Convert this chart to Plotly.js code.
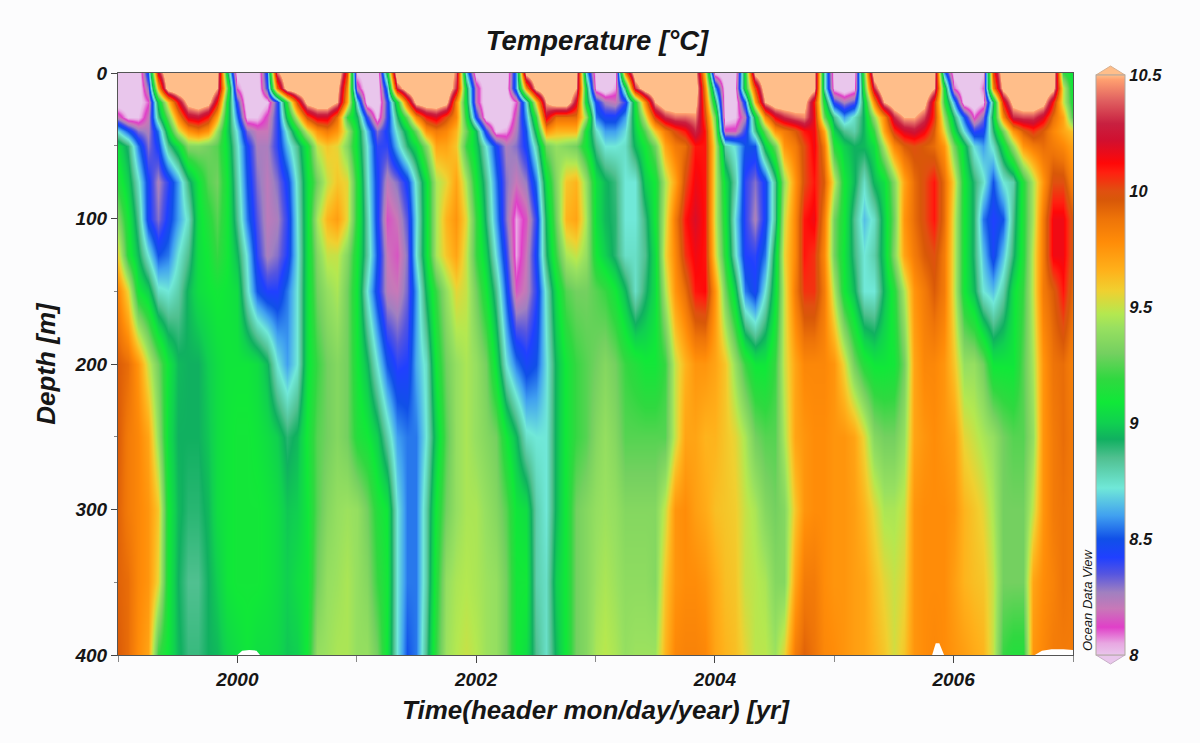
<!DOCTYPE html>
<html><head><meta charset="utf-8">
<script src="https://cdn.plot.ly/plotly-3.0.1.min.js"></script>
<style>html,body{margin:0;padding:0;background:#fcfcfd}</style></head>
<body><div id="chart" style="width:1200px;height:743px"></div>
<script>
const times=[1999,1999.083,1999.167,1999.25,1999.333,1999.417,1999.5,1999.583,1999.667,1999.75,1999.833,1999.917,
2000,2000.083,2000.167,2000.25,2000.333,2000.417,2000.5,2000.583,2000.667,2000.75,2000.833,2000.917,
2001,2001.083,2001.167,2001.25,2001.333,2001.417,2001.5,2001.583,2001.667,2001.75,2001.833,2001.917,
2002,2002.083,2002.167,2002.25,2002.333,2002.417,2002.5,2002.583,2002.667,2002.75,2002.833,2002.917,
2003,2003.083,2003.167,2003.25,2003.333,2003.417,2003.5,2003.583,2003.667,2003.75,2003.833,2003.917,
2004,2004.083,2004.167,2004.25,2004.333,2004.417,2004.5,2004.583,2004.667,2004.75,2004.833,2004.917,
2005,2005.083,2005.167,2005.25,2005.333,2005.417,2005.5,2005.583,2005.667,2005.75,2005.833,2005.917,
2006,2006.083,2006.167,2006.25,2006.333,2006.417,2006.5,2006.583,2006.667,2006.75,2006.833,2006.917,
2007];
const depths=[0,10,20,30,40,50,75,100,125,150,200,250,300,350,400];
const d0=[7.9,7.9,7.9,8.5,10.2,10.8,10.8,10.8,10.8,10.8,10.6,9.0,
7.95,7.9,7.9,8.5,10.4,10.8,10.8,10.8,10.8,10.8,10.8,10.0,
8.0,7.9,7.9,9.0,10.8,10.8,10.8,10.8,10.8,10.8,10.4,8.7,
7.95,7.9,7.9,7.9,8.6,10.6,10.8,10.8,10.8,10.8,10.6,8.7,
7.95,7.95,7.95,9.8,10.7,10.8,10.8,10.8,10.8,10.8,10.6,9.6,
8.0,7.9,7.95,9.1,10.6,10.8,10.8,10.8,10.8,10.8,10.6,8.8,
7.95,7.9,7.95,9.3,10.7,10.8,10.8,10.8,10.8,10.8,10.6,8.6,
7.95,7.9,7.9,8.0,10.0,10.7,10.8,10.8,10.8,10.8,10.7,9.2,
9.05];
const d10=[7.9,7.9,7.9,8.3,9.7,10.7,10.8,10.8,10.8,10.8,10.5,9.3,
8.1,7.9,7.9,8.4,9.9,10.7,10.8,10.8,10.8,10.8,10.6,9.8,
8.2,7.9,7.9,8.6,10.3,10.7,10.8,10.8,10.8,10.8,10.3,9.0,
8.2,7.9,7.9,7.95,8.6,9.8,10.6,10.8,10.8,10.8,10.5,9.0,
8.0,7.9,8.05,8.9,10.3,10.7,10.8,10.8,10.8,10.8,10.7,9.8,
8.6,7.95,8.0,9.1,10.0,10.7,10.8,10.8,10.8,10.8,10.6,8.8,
8.0,7.9,8.0,9.2,10.3,10.8,10.8,10.8,10.8,10.8,10.5,9.1,
8.1,7.9,7.9,8.1,9.8,10.6,10.8,10.8,10.8,10.8,10.6,9.5,
9.05];
const d20=[7.9,7.9,7.95,8.1,9.0,9.6,10.15,10.6,10.7,10.6,10.1,9.1,
8.4,7.9,7.9,8.0,8.4,9.2,10.0,10.6,10.7,10.7,10.5,9.7,
8.7,7.95,7.9,8.4,9.1,9.95,10.6,10.7,10.7,10.6,9.8,9.05,
8.2,7.9,7.9,7.9,8.1,8.7,9.6,10.5,10.7,10.7,10.2,9.05,
8.45,8.25,8.2,8.4,9.1,9.8,10.5,10.7,10.7,10.7,10.6,9.9,
8.95,7.95,7.95,8.5,9.7,10.5,10.7,10.7,10.7,10.6,10.1,9.1,
8.4,8.25,8.35,9.0,9.8,10.5,10.7,10.8,10.7,10.6,10.05,9.2,
8.6,7.95,7.9,8.0,8.9,10.1,10.6,10.7,10.7,10.6,10.1,9.5,
9.1];
const d30=[8.2,8.0,8.0,8.2,8.85,9.3,9.8,10.2,10.25,10.1,9.7,9.05,
8.55,8.0,8.0,8.15,8.4,9.0,9.5,10.0,10.2,10.2,9.9,9.2,
8.95,8.4,8.0,8.4,8.9,9.3,9.8,10.1,10.2,10.0,9.8,9.15,
8.45,7.95,7.9,7.9,8.2,8.6,9.2,10.2,9.9,9.9,9.9,9.4,
8.55,8.45,8.45,8.6,9.05,9.5,10.05,10.3,10.4,10.4,10.45,10.0,
9.3,7.95,8.0,8.25,9.0,9.8,10.15,10.3,10.4,10.45,10.15,9.3,
8.85,8.6,8.75,8.95,9.4,9.8,10.3,10.5,10.5,10.35,10.05,9.4,
8.9,8.5,8.1,8.3,9.0,9.8,10.3,10.35,10.35,10.2,9.9,9.7,
9.2];
const d40=[8.7,8.5,8.3,8.25,8.55,9.05,9.5,9.75,9.85,9.75,9.4,9.0,
8.7,8.3,8.2,8.2,8.4,8.75,9.1,9.5,9.75,9.85,9.75,9.45,
9.05,8.65,8.3,8.45,8.75,9.0,9.3,9.75,9.85,9.8,9.65,9.3,
8.95,8.4,8.0,8.05,8.25,8.5,9.0,9.75,9.65,9.65,9.65,9.1,
8.75,8.6,8.6,8.7,9.0,9.25,9.6,9.85,10.0,10.1,10.3,10.1,
9.4,8.15,8.15,8.4,8.85,9.3,9.75,9.85,9.95,10.1,10.15,9.7,
9.0,8.85,8.8,8.95,9.2,9.7,10.05,10.2,10.25,10.15,9.95,9.55,
9.05,8.7,8.4,8.45,8.9,9.3,9.75,9.95,10.05,9.95,9.8,9.7,
9.6];
const d50=[9.05,8.9,8.55,8.3,8.45,8.85,9.05,9.35,9.35,9.3,9.25,9.05,
8.75,8.45,8.25,8.25,8.4,8.65,8.85,9.1,9.5,9.6,9.55,9.35,
9.05,8.72,8.4,8.4,8.65,8.9,9.05,9.35,9.7,9.7,9.6,9.2,
9.0,8.72,8.45,8.25,8.3,8.45,8.8,9.3,9.4,9.35,9.3,9.1,
8.85,8.72,8.72,8.75,8.95,9.1,9.3,9.7,9.85,9.9,10.1,10.1,
9.5,8.8,8.7,8.5,8.5,9.0,9.3,9.75,9.85,10.0,10.15,9.85,
9.15,9.0,8.93,8.95,9.05,9.45,9.8,9.95,10.0,9.95,9.9,9.75,
9.3,9.0,8.7,8.6,8.75,9.05,9.4,9.75,9.85,9.9,9.85,9.8,
9.7];
const d75=[9.15,9.0,8.75,8.45,8.25,8.4,8.6,8.88,9.08,9.25,9.3,9.1,
8.8,8.5,8.3,8.22,8.3,8.45,8.75,9.05,9.3,9.5,9.6,9.55,
9.15,8.75,8.45,8.22,8.3,8.45,8.75,9.05,9.45,9.55,9.7,9.45,
9.1,8.85,8.55,8.3,8.2,8.28,8.55,9.05,9.35,9.6,9.65,9.4,
9.05,8.95,8.88,8.72,8.72,9.0,9.1,9.45,9.7,10.0,10.15,10.1,
9.5,9.05,8.8,8.4,8.3,8.45,8.85,9.4,9.75,10.0,10.1,9.95,
9.5,9.1,8.95,8.75,8.95,9.05,9.35,9.7,9.9,10.0,10.1,9.9,
9.55,9.1,8.9,8.75,8.5,8.72,8.8,9.15,9.45,9.75,10.0,10.0,
9.8];
const d100=[9.35,9.1,8.85,8.45,8.3,8.45,8.6,8.75,9.05,9.15,9.25,9.1,
8.85,8.55,8.35,8.22,8.25,8.4,8.72,9.05,9.45,9.65,9.72,9.55,
9.15,8.8,8.45,8.14,8.2,8.35,8.7,9.05,9.45,9.65,9.75,9.55,
9.2,8.9,8.6,8.3,8.05,8.15,8.4,8.95,9.3,9.65,9.7,9.45,
9.05,8.95,8.9,8.72,8.72,8.88,9.1,9.5,9.85,10.1,10.2,10.1,
9.5,9.1,8.7,8.4,8.25,8.45,8.85,9.5,9.8,10.1,10.15,9.85,
9.3,9.1,8.85,8.65,8.75,9.0,9.3,9.75,9.9,10.0,10.1,9.9,
9.5,9.1,8.9,8.55,8.42,8.5,8.85,9.15,9.45,9.85,10.15,10.15,
9.95];
const d125=[9.55,9.15,8.95,8.72,8.5,8.55,8.72,8.85,9.05,9.1,9.2,9.1,
8.95,8.7,8.4,8.25,8.3,8.42,8.7,9.05,9.35,9.5,9.5,9.35,
9.1,8.82,8.5,8.2,8.15,8.3,8.72,9.05,9.45,9.6,9.7,9.5,
9.2,9.0,8.7,8.4,8.05,8.2,8.45,8.9,9.2,9.45,9.5,9.4,
9.1,9.0,8.9,8.75,8.75,8.85,9.05,9.55,9.8,10.05,10.15,10.1,
9.55,9.15,8.75,8.42,8.4,8.55,9.0,9.55,9.8,10.1,10.05,9.8,
9.3,9.08,8.88,8.72,8.8,9.0,9.35,9.7,9.85,9.95,10.0,9.85,
9.5,9.1,8.9,8.65,8.45,8.65,8.9,9.15,9.5,9.85,10.15,10.15,
9.95];
const d150=[9.8,9.55,9.1,9.0,8.75,8.72,8.8,8.95,9.05,9.08,9.1,9.08,
9.05,8.75,8.5,8.42,8.42,8.55,8.72,9.05,9.3,9.4,9.45,9.3,
9.08,8.72,8.45,8.22,8.2,8.32,8.6,8.95,9.2,9.4,9.55,9.5,
9.3,9.1,8.85,8.5,8.15,8.22,8.4,8.75,9.05,9.25,9.3,9.3,
9.25,9.2,9.1,8.95,8.75,8.9,9.05,9.45,9.75,9.9,10.1,10.12,
9.75,9.3,9.0,8.55,8.45,8.72,9.05,9.5,9.85,10.05,10.05,9.85,
9.45,9.1,8.95,8.72,8.72,8.95,9.15,9.45,9.75,9.85,9.95,9.85,
9.5,9.1,8.95,8.72,8.65,8.8,9.05,9.2,9.5,9.85,9.95,10.1,
9.9];
const d200=[9.95,9.9,9.75,9.5,9.3,9.08,8.95,8.93,8.93,9.0,9.05,9.08,
9.08,9.08,9.05,8.95,8.72,8.6,8.72,9.05,9.2,9.3,9.35,9.3,
9.1,8.95,8.72,8.5,8.4,8.42,8.62,8.75,9.1,9.3,9.4,9.45,
9.4,9.3,9.05,8.72,8.55,8.45,8.5,8.7,8.95,9.1,9.2,9.25,
9.3,9.35,9.3,9.2,9.15,9.1,9.1,9.2,9.5,9.65,9.75,9.75,
9.7,9.6,9.4,9.2,9.08,9.08,9.2,9.5,9.7,9.8,9.8,9.8,
9.75,9.55,9.3,9.15,9.08,9.08,9.1,9.3,9.7,9.8,9.8,9.75,
9.6,9.4,9.4,9.3,9.08,9.08,9.08,9.25,9.45,9.75,9.88,9.9,
9.82];
const d250=[9.95,9.85,9.8,9.7,9.4,9.05,8.93,8.93,8.93,8.98,9.05,9.08,
9.1,9.1,9.08,9.05,9.0,8.9,8.95,9.1,9.25,9.3,9.35,9.3,
9.15,9.1,9.0,8.8,8.6,8.55,8.55,8.72,9.0,9.25,9.4,9.45,
9.4,9.35,9.3,9.1,8.95,8.75,8.72,8.72,8.95,9.1,9.2,9.25,
9.35,9.4,9.35,9.25,9.25,9.25,9.25,9.25,9.5,9.7,9.7,9.65,
9.65,9.6,9.55,9.45,9.3,9.25,9.25,9.45,9.7,9.75,9.78,9.78,
9.75,9.75,9.7,9.55,9.35,9.3,9.3,9.4,9.7,9.75,9.78,9.75,
9.72,9.55,9.5,9.45,9.4,9.3,9.25,9.25,9.4,9.75,9.85,9.9,
9.85];
const d300=[9.93,9.85,9.8,9.75,9.6,9.1,8.95,8.9,8.9,8.95,9.05,9.08,
9.1,9.1,9.1,9.08,9.05,8.98,9.0,9.08,9.25,9.35,9.4,9.42,
9.4,9.3,9.15,9.08,8.72,8.55,8.55,8.8,9.1,9.3,9.4,9.45,
9.45,9.4,9.35,9.25,9.08,9.05,8.8,8.72,8.95,9.1,9.3,9.35,
9.4,9.42,9.4,9.35,9.35,9.35,9.35,9.5,9.75,9.78,9.72,9.68,
9.62,9.6,9.58,9.5,9.45,9.35,9.3,9.35,9.6,9.75,9.78,9.78,
9.75,9.75,9.72,9.65,9.55,9.45,9.45,9.5,9.75,9.78,9.78,9.78,
9.75,9.65,9.6,9.55,9.45,9.3,9.3,9.3,9.5,9.75,9.85,9.88,
9.85];
const d350=[9.93,9.9,9.8,9.75,9.55,9.1,8.93,8.85,8.85,8.93,9.0,9.08,
9.1,9.1,9.1,9.08,9.05,9.0,9.05,9.08,9.3,9.4,9.42,9.45,
9.4,9.35,9.2,9.1,8.72,8.55,8.55,8.8,9.15,9.4,9.45,9.47,
9.45,9.42,9.4,9.3,9.1,9.1,8.8,8.75,9.0,9.1,9.3,9.35,
9.42,9.45,9.42,9.38,9.38,9.38,9.35,9.6,9.75,9.78,9.78,9.75,
9.68,9.62,9.6,9.5,9.48,9.45,9.35,9.35,9.7,9.85,9.85,9.78,
9.75,9.75,9.72,9.7,9.62,9.55,9.5,9.55,9.75,9.78,9.78,9.78,
9.72,9.65,9.62,9.6,9.5,9.3,9.3,9.3,9.7,9.78,9.82,9.88,
9.85];
const d400=[9.95,9.9,9.78,9.7,9.2,9.08,8.95,8.88,8.88,8.93,8.95,9.02,
9.05,9.08,9.05,9.05,9.03,8.98,9.0,9.1,9.4,9.42,9.45,9.45,
9.4,9.4,9.3,9.08,8.72,8.5,8.55,8.85,9.2,9.42,9.47,9.5,
9.47,9.42,9.4,9.3,9.1,9.05,8.85,8.75,8.95,9.1,9.3,9.35,
9.45,9.48,9.45,9.4,9.42,9.42,9.42,9.65,9.8,9.82,9.82,9.8,
9.7,9.65,9.62,9.55,9.48,9.48,9.42,9.55,9.85,9.93,9.88,9.8,
9.78,9.75,9.72,9.7,9.65,9.6,9.52,9.6,9.75,9.78,9.8,9.78,
9.75,9.72,9.68,9.65,9.5,9.2,9.15,9.15,9.75,9.8,9.85,9.85,
9.85];
const temperature=[d0,d10,d20,d30,d40,d50,d75,d100,d125,d150,d200,d250,d300,d350,d400];

const scaleValues=[8,8.05,8.12,8.2,8.27,8.35,8.42,8.5,8.6,8.72,8.85,8.93,9.0,9.09,9.19,9.3,9.41,9.47,9.57,9.66,9.78,9.88,9.96,10,10.08,10.12,10.22,10.29,10.39,10.48,10.5];
const scaleColors=['#e9c6ec','#e8a8e2','#e040c8','#c878b8','#a080c0','#5555e0','#2040ff','#1050e8','#40a0f0','#70e8d8','#50c090','#10b060','#10d050','#10e838','#30d840','#74d060','#98e060','#b4e850','#f0d030','#ffb01a','#ff8c08','#ee7408','#d85808','#e05010','#ff2010','#ff0808','#d01030','#c82040','#e06060','#ffa070','#ffbe8a'];
const colorscale=scaleValues.map((v,i)=>[(v-8)/2.5,scaleColors[i]]);

const gapTimes1=[2000,2000.04,2000.1,2000.16,2000.19,2000];
const gapDepths1=[400,397,396.5,397,400,400];
const gapTimes2=[2005.82,2005.85,2005.88,2005.92,2005.82];
const gapDepths2=[400,392,392,400,400];
const gapTimes3=[2006.68,2006.74,2006.82,2006.92,2007,2007,2006.68];
const gapDepths3=[400,397,396,396,396.5,400,400];

const tickColor='#444';
const textColor='#161616';
const fontFamily='"Liberation Sans",Arial,sans-serif';
const pxX=p=>(p-118)/955, pxY=p=>(655-p)/582;

const gap=(x,y)=>({type:'scatter',mode:'none',x,y,fill:'toself',fillcolor:'#ffffff',hoverinfo:'skip',showlegend:false});
const data=[{type:'heatmap',x:times,y:depths,z:temperature,zmin:8,zmax:10.5,zsmooth:'best',colorscale,
  colorbar:{thickness:29,thicknessmode:'pixels',len:580/582,lenmode:'fraction',y:0,yanchor:'bottom',ypad:0,xpad:0,
    x:pxX(1096),xanchor:'left',outlinecolor:'#b0a8a0',outlinewidth:1,ticks:'',
    tickvals:[8,8.5,9,9.5,10,10.5],ticktext:['8','8.5','9','9.5','10','10.5'],
    tickfont:{family:fontFamily,size:16.5,color:textColor,weight:700,style:'italic'}}},
  gap(gapTimes1,gapDepths1),gap(gapTimes2,gapDepths2),gap(gapTimes3,gapDepths3)];

const layout={width:1200,height:743,paper_bgcolor:'#fcfcfd',plot_bgcolor:'#ffffff',
  margin:{l:118,r:127,t:73,b:88},showlegend:false,
  font:{family:fontFamily,color:textColor},
  title:{text:'<b><i>Temperature [°C]</i></b>',x:597/1200,xanchor:'center',y:1-40/743,yanchor:'middle',font:{size:27.5,color:textColor}},
  xaxis:{range:[1999,2007],tick0:2000,dtick:2,ticks:'outside',ticklen:7,tickcolor:tickColor,tickwidth:1,
    minor:{dtick:1,ticks:'outside',ticklen:6,tickcolor:'#888'},
    showline:true,mirror:true,linecolor:'#555',linewidth:1,zeroline:false,showgrid:false,
    tickfont:{size:19,weight:700,style:'italic',color:textColor},tickformat:'d',
    title:{text:'<b><i>Time(header mon/day/year) [yr]</i></b>',font:{size:26,color:textColor},standoff:12}},
  yaxis:{range:[400,0],tick0:0,dtick:100,ticks:'outside',ticklen:6,tickcolor:tickColor,tickwidth:1,
    minor:{dtick:50,ticks:'outside',ticklen:3,tickcolor:'#888'},
    showline:true,mirror:true,linecolor:'#555',linewidth:1,zeroline:false,showgrid:false,
    tickfont:{size:19,weight:700,style:'italic',color:textColor},
    title:{text:'<b><i>Depth [m]</i></b>',font:{size:26,color:textColor},standoff:11}},
  shapes:[
    {type:'path',xref:'paper',yref:'paper',path:`M ${pxX(1096)} ${pxY(75)} L ${pxX(1110.5)} ${pxY(66)} L ${pxX(1125)} ${pxY(75)} Z`,fillcolor:'#ffbe8a',line:{color:'#d8b090',width:1}},
    {type:'path',xref:'paper',yref:'paper',path:`M ${pxX(1096)} ${pxY(655)} L ${pxX(1110.5)} ${pxY(664)} L ${pxX(1125)} ${pxY(655)} Z`,fillcolor:'#e9c6ec',line:{color:'#c8b0c8',width:1}}
  ],
  annotations:[{text:'<i>Ocean Data View</i>',xref:'paper',yref:'paper',x:pxX(1087),y:pxY(600),xanchor:'center',yanchor:'middle',textangle:-90,showarrow:false,font:{size:13,color:textColor}}]
};
Plotly.newPlot('chart',data,layout,{displayModeBar:false,staticPlot:true});
</script></body></html>
